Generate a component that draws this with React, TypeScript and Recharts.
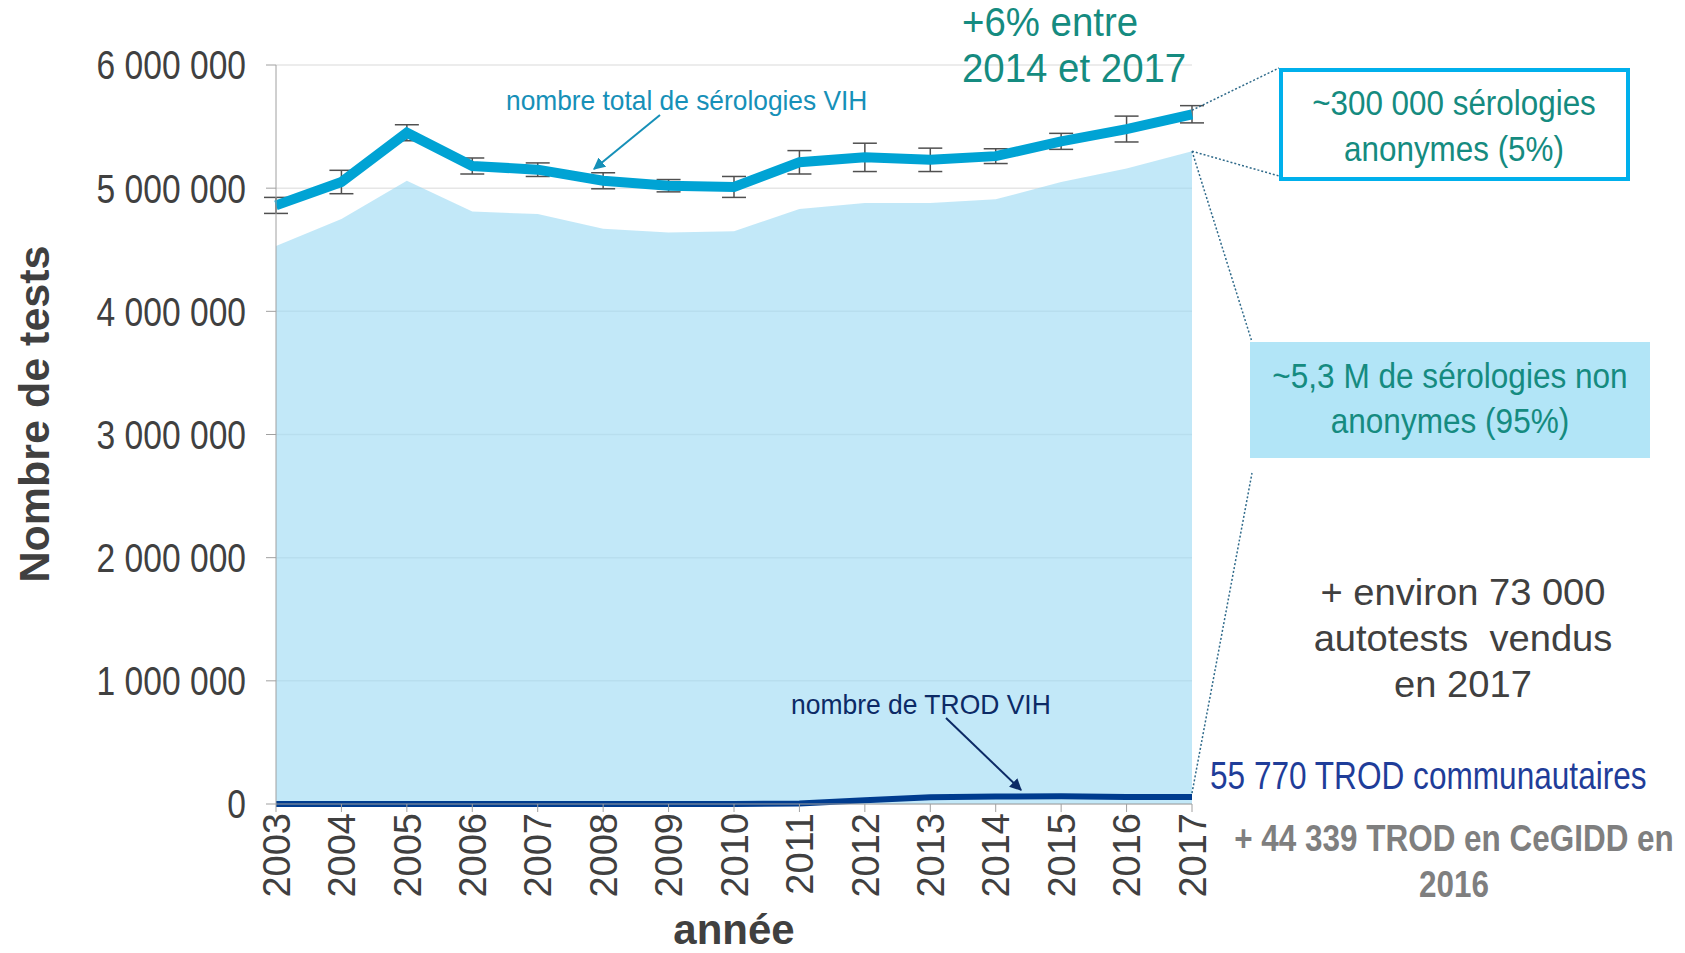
import React from 'react';
import { ComposedChart, Line, Area, XAxis, YAxis, CartesianGrid, ErrorBar } from 'recharts';

// données
const years = ['2003', '2004', '2005', '2006', '2007', '2008', '2009', '2010', '2011', '2012', '2013', '2014', '2015', '2016', '2017'];
const totalSerologies = [4860000, 5050000, 5450000, 5180000, 5150000, 5060000, 5020000, 5010000, 5210000, 5250000, 5230000, 5260000, 5380000, 5480000, 5600000];
const totalErreur = [65000, 95000, 65000, 65000, 55000, 65000, 50000, 85000, 95000, 115000, 95000, 60000, 65000, 105000, 70000];
const serologiesNonAnonymes = [4530000, 4750000, 5060000, 4810000, 4790000, 4670000, 4640000, 4650000, 4830000, 4880000, 4880000, 4910000, 5050000, 5160000, 5300000];
const trodVih = [0, 0, 0, 0, 0, 0, 0, 0, 4000, 30000, 55000, 60000, 62000, 56000, 56000];
const yTicks = [0, 1000000, 2000000, 3000000, 4000000, 5000000, 6000000];

const data = years.map((annee, i) => ({
  annee,
  total: totalSerologies[i],
  err: totalErreur[i],
  nonAnonymes: serologiesNonAnonymes[i],
  trod: trodVih[i],
}));

const W = 1685;
const H = 953;
const PLOT_TOP = 65;
const PLOT_BOTTOM = 804;
const PLOT_RIGHT = 1192;
const Y_MAX = 6000000;
const yOf = (v: number) => PLOT_TOP + (1 - v / Y_MAX) * (PLOT_BOTTOM - PLOT_TOP);

const GREY = '#404040';
const TEAL = '#158b80';
const FONT = "'Liberation Sans', Arial, sans-serif";

const fmt = (v: number) => String(v).replace(/\B(?=(\d{3})+(?!\d))/g, ' ');

const YTick = ({ x, y, payload }: any) => (
  <text
    transform={`translate(${x},${y}) scale(0.84,1)`}
    textAnchor="end"
    dy="0.36em"
    fontSize={40}
    fontFamily={FONT}
    fill={GREY}
  >
    {fmt(payload.value)}
  </text>
);

const XTick = ({ x, y, payload }: any) => (
  <text
    transform={`translate(${x},${y}) rotate(-90)`}
    textAnchor="end"
    dy="0.36em"
    fontSize={38}
    fontFamily={FONT}
    fill={GREY}
  >
    {payload.value}
  </text>
);

type TxtProps = {
  x: number;
  y: number;
  fs: number;
  sx?: number;
  color: string;
  bold?: boolean;
  center?: boolean;
  lh?: number;
  children: React.ReactNode;
};

const Txt = ({ x, y, fs, sx = 1, color, bold, center, lh, children }: TxtProps) => (
  <div
    style={{
      position: 'absolute',
      left: x,
      top: y,
      fontSize: fs,
      lineHeight: `${lh ?? Math.round(fs * 1.15)}px`,
      color,
      fontWeight: bold ? 700 : 400,
      whiteSpace: 'nowrap',
      textAlign: center ? 'center' : 'left',
      transform: center ? `translate(-50%,-50%) scaleX(${sx})` : `translateY(-50%) scaleX(${sx})`,
      transformOrigin: center ? 'center' : 'left center',
    }}
  >
    {children}
  </div>
);

export default function App() {
  const last = data.length - 1;
  return (
    <div style={{ position: 'absolute', left: 0, top: 0, width: W, height: H, background: '#fff', fontFamily: FONT, overflow: 'hidden' }}>
      <ComposedChart
        width={W}
        height={H}
        data={data}
        margin={{ top: PLOT_TOP, right: W - PLOT_RIGHT, bottom: 49, left: 0 }}
      >
        <CartesianGrid vertical={false} stroke="#e6e6e6" strokeWidth={1.5} />
        <XAxis
          dataKey="annee"
          height={100}
          tick={<XTick />}
          tickSize={8}
          tickMargin={1}
          interval={0}
          axisLine={{ stroke: '#a0a0a0' }}
          tickLine={{ stroke: '#a0a0a0' }}
        />
        <YAxis
          width={276}
          domain={[0, Y_MAX]}
          ticks={yTicks}
          tick={<YTick />}
          tickSize={10}
          tickMargin={20}
          interval={0}
          axisLine={{ stroke: '#a0a0a0' }}
          tickLine={{ stroke: '#a0a0a0' }}
        />
        <Area
          type="linear"
          dataKey="nonAnonymes"
          fill="#9ad9f3"
          fillOpacity={0.6}
          stroke="none"
          isAnimationActive={false}
        />
        <Line
          type="linear"
          dataKey="total"
          stroke="#00a3d4"
          strokeWidth={10}
          dot={false}
          isAnimationActive={false}
        >
          <ErrorBar dataKey="err" width={12} strokeWidth={1.5} stroke="#505050" direction="y" isAnimationActive={false} />
        </Line>
        <Line
          type="linear"
          dataKey="trod"
          stroke="#003c8f"
          strokeWidth={6}
          dot={false}
          isAnimationActive={false}
        />
      </ComposedChart>

      <svg width={W} height={H} style={{ position: 'absolute', left: 0, top: 0, pointerEvents: 'none' }}>
        <defs>
          <marker id="headTeal" viewBox="0 0 10 10" refX="9" refY="5" markerWidth="6" markerHeight="6" orient="auto">
            <path d="M0,0 L10,5 L0,10 z" fill="#1690b8" />
          </marker>
          <marker id="headNavy" viewBox="0 0 10 10" refX="9" refY="5" markerWidth="6" markerHeight="6" orient="auto">
            <path d="M0,0 L10,5 L0,10 z" fill="#0c2a66" />
          </marker>
        </defs>
        <line x1={660} y1={115} x2={594} y2={169} stroke="#1690b8" strokeWidth={2} markerEnd="url(#headTeal)" />
        <line x1={946} y1={718} x2={1021} y2={790} stroke="#0c2a66" strokeWidth={2} markerEnd="url(#headNavy)" />
        <g stroke="#2f6a8a" strokeWidth={1.5} strokeDasharray="2 2" fill="none">
          <line x1={PLOT_RIGHT} y1={yOf(totalSerologies[last]) - 4} x2={1279} y2={68} />
          <line x1={PLOT_RIGHT} y1={yOf(serologiesNonAnonymes[last])} x2={1279} y2={176} />
          <line x1={PLOT_RIGHT} y1={yOf(serologiesNonAnonymes[last])} x2={1252} y2={342} />
          <line x1={PLOT_RIGHT} y1={yOf(trodVih[last]) - 4} x2={1252} y2={473} />
        </g>
      </svg>

      <div
        style={{
          position: 'absolute',
          left: 34,
          top: 414,
          transform: 'translate(-50%,-50%) rotate(-90deg)',
          fontSize: 43,
          fontWeight: 700,
          color: GREY,
          whiteSpace: 'nowrap',
        }}
      >
        Nombre de tests
      </div>
      <Txt x={734} y={930} fs={42} lh={42} bold center color={GREY}>année</Txt>

      <Txt x={962} y={45} fs={40} sx={0.96} lh={46} color={TEAL}>
        +6% entre<br />2014 et 2017
      </Txt>
      <Txt x={506} y={101} fs={28} sx={0.94} color="#1690b8">nombre total de sérologies VIH</Txt>
      <Txt x={791} y={705} fs={28} sx={0.945} color="#0c2a66">nombre de TROD VIH</Txt>

      <div style={{ position: 'absolute', left: 1279, top: 68, width: 351, height: 113, border: '4px solid #00b0ec', boxSizing: 'border-box' }} />
      <Txt x={1454} y={126} fs={34.5} sx={0.91} lh={46} center color={TEAL}>
        ~300 000 sérologies<br />anonymes (5%)
      </Txt>

      <div style={{ position: 'absolute', left: 1250, top: 342, width: 400, height: 116, background: '#b2e5f7' }} />
      <Txt x={1450} y={399} fs={34.5} sx={0.915} lh={45} center color={TEAL}>
        ~5,3 M de sérologies non<br />anonymes (95%)
      </Txt>

      <Txt x={1463} y={639} fs={37} sx={1.03} lh={46} center color={GREY}>
        + environ 73 000<br />autotests&nbsp;&nbsp;vendus<br />en 2017
      </Txt>
      <Txt x={1210} y={775} fs={39} sx={0.81} color="#1f3d99">55 770 TROD communautaires</Txt>
      <Txt x={1454} y={862} fs={37} sx={0.85} lh={46} bold center color="#7f7f7f">
        + 44 339 TROD en CeGIDD en<br />2016
      </Txt>
    </div>
  );
}
